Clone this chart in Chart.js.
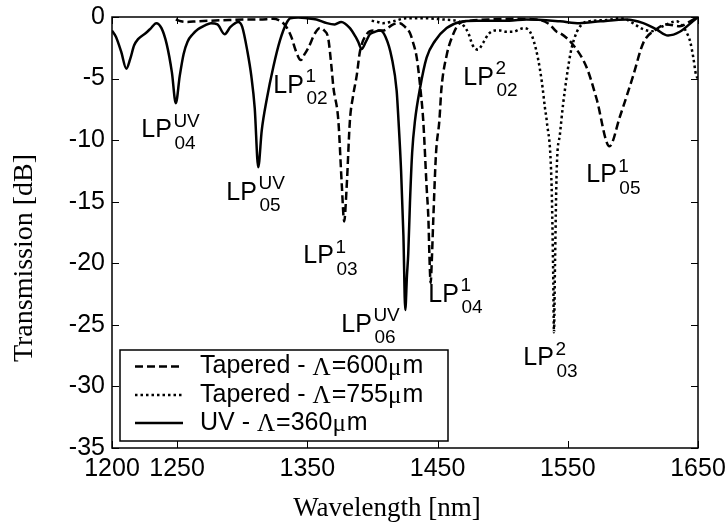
<!DOCTYPE html>
<html><head><meta charset="utf-8">
<script src="https://cdn.jsdelivr.net/npm/chart.js@4.4.1/dist/chart.umd.min.js"></script>
<style>html,body{margin:0;padding:0;background:#fff;}#wrap{width:728px;height:524px;}</style>
</head><body><div id="wrap"><canvas id="c" width="728" height="524"></canvas></div>
<script>
// ---- data ----
const xTickValues = [1200, 1250, 1350, 1450, 1550, 1650];
const yTickValues = [0, -5, -10, -15, -20, -25, -30, -35];

const tap600Wl = [1249,1253,1258,1265,1275,1290,1305,1313.6,1323.7,1328,1331.5,1335,1338,1341,1345,1348,1350.8,1356,1359.7,1363,1366,1368.5,1370,1373.8,1376.4,1378.3,1380.2,1382.7,1385,1388,1390.4,1395.6,1400.7,1408,1416,1421,1425,1428.8,1431,1434,1437,1439,1441.6,1443,1443.7,1444.7,1445.5,1446.7,1448.8,1451.4,1453,1457,1462,1467,1475,1490,1510,1526,1536,1541.5,1544,1554,1564.5,1572,1582,1590,1600,1608,1618,1626,1636,1644,1650];
const tap600T  = [-0.2,-0.35,-0.4,-0.35,-0.3,-0.25,-0.2,-0.2,-0.15,-0.25,-0.5,-1.0,-1.7,-2.7,-3.5,-3.0,-2.5,-1.3,-0.9,-1.1,-1.7,-4.0,-5.7,-8.4,-13.5,-16.6,-13.8,-8.4,-6.5,-4.7,-2.8,-1.4,-1.1,-1.1,-0.6,-0.5,-0.8,-1.3,-2.0,-3.3,-6.0,-8.4,-13.8,-16.5,-19.2,-21.6,-20.0,-16.5,-11.1,-8.4,-5.8,-3.1,-1.4,-0.5,-0.3,-0.2,-0.15,-0.2,-0.6,-1.2,-1.3,-2.25,-4.1,-6.6,-10.5,-8.1,-4.85,-2.1,-1.0,-0.6,-0.75,-0.35,0];

const tap755Wl = [1399.4,1404,1408,1416,1426,1440,1454,1467,1470,1473.6,1477,1481,1485,1489,1494,1498,1503,1508,1513,1516,1521,1524,1527,1530,1532.5,1533.8,1537.6,1538.8,1539.4,1540.2,1541.5,1544,1546.5,1549,1551,1553,1557,1562,1570,1580,1590,1596,1600,1608,1614.5,1623,1633.6,1637,1641,1644,1646.4,1648.5,1650];
const tap755T  = [-0.3,-0.4,-0.5,-0.35,-0.1,-0.1,-0.2,-0.4,-0.7,-1.3,-2.3,-2.65,-2.1,-1.4,-1.1,-1.1,-1.2,-1.2,-1.0,-0.9,-1.2,-2.0,-3.3,-5.2,-7.4,-8.4,-13.8,-20.8,-25.6,-20,-12.4,-9.5,-7.0,-5.0,-3.6,-2.5,-1.2,-0.5,-0.3,-0.25,-0.1,-0.25,-0.5,-1.0,-1.15,-0.75,-0.35,-0.6,-1.2,-2.0,-3.3,-4.7,-5.0];

const uvWl = [1200,1203,1207,1211,1214,1217,1220,1226,1230,1234,1238,1242,1246,1249,1252,1255,1258,1262,1266,1271,1276,1281,1286.5,1291,1297,1300,1304,1307,1309.6,1312.3,1315,1318.8,1324,1329,1334,1337,1343,1349.5,1357,1365,1371,1376,1382.7,1387,1389,1391.7,1395,1398,1402,1405.8,1410,1414.8,1418.6,1420,1422,1423.8,1425.2,1426.5,1427.5,1428.8,1430.5,1432.7,1436.5,1441.6,1448,1457,1467,1480,1505,1518,1544,1559,1575,1595,1608,1618,1627,1636,1646,1650];
const uvT  = [-1.1,-1.6,-2.8,-4.2,-3.4,-2.3,-1.8,-1.3,-0.9,-0.5,-0.9,-2.2,-4.5,-7.0,-4.8,-3.0,-2.0,-1.4,-1.0,-0.7,-0.5,-0.6,-1.4,-0.8,-0.4,-0.8,-2.8,-4.8,-7.4,-12.2,-9.2,-6.7,-4.0,-1.9,-0.5,-0.1,-0.05,-0.1,-0.2,-0.5,-0.6,-0.4,-0.9,-1.6,-2.0,-2.6,-2.0,-1.4,-1.2,-1.1,-1.6,-3.3,-6.0,-8.4,-12.5,-17.8,-23.8,-21,-19.2,-15.1,-11,-8.4,-5.8,-3.3,-1.95,-0.9,-0.4,-0.3,-0.3,-0.2,-0.35,-0.5,-0.35,-0.2,-0.5,-1.0,-1.5,-1.2,-0.35,0];

const seriesNames = ['Tapered - \u039B=600\u03BCm', 'Tapered - \u039B=755\u03BCm', 'UV - \u039B=360\u03BCm'];

// mode annotations: [main, superscript, subscript, wavelength, dB]
const modeLabels = [
  ['LP','UV','04',1222.5,-9.75],
  ['LP','UV','05',1287.8,-14.86],
  ['LP','1','02',1323.9,-6.17],
  ['LP','1','03',1346.9,-19.98],
  ['LP','UV','06',1376.1,-25.58],
  ['LP','1','04',1442.9,-23.14],
  ['LP','2','03',1515.9,-28.26],
  ['LP','2','02',1469.8,-5.52],
  ['LP','1','05',1564.2,-13.40]
];

const toXY = (xs, ys) => xs.slice(0, Math.min(xs.length, ys.length)).map((x, i) => ({x: x, y: ys[i]}));

const SANS = '"Liberation Sans", Arial, sans-serif';
const SERIF = '"Liberation Serif", "Times New Roman", serif';

const decor = {
  id: 'decor',
  afterDatasetsDraw(chart) {
    const {ctx, chartArea: a, scales: {x, y}} = chart;
    ctx.save();
    ctx.strokeStyle = '#000';
    ctx.lineWidth = 1.5;
    ctx.strokeRect(a.left, a.top, a.right - a.left, a.bottom - a.top);
    const tl = 7;
    ctx.beginPath();
    xTickValues.forEach(v => {
      const px = Math.round(x.getPixelForValue(v)) + 0.5;
      ctx.moveTo(px, a.bottom); ctx.lineTo(px, a.bottom - tl);
      ctx.moveTo(px, a.top); ctx.lineTo(px, a.top + tl);
    });
    yTickValues.forEach(v => {
      const py = Math.round(y.getPixelForValue(v)) + 0.5;
      ctx.moveTo(a.left, py); ctx.lineTo(a.left + tl, py);
      ctx.moveTo(a.right, py); ctx.lineTo(a.right - tl, py);
    });
    ctx.lineWidth = 1;
    ctx.stroke();
    ctx.restore();
  },
  afterDraw(chart) {
    const {ctx, scales: {x, y}} = chart;
    ctx.save();
    ctx.fillStyle = '#000';
    ctx.textBaseline = 'alphabetic';
    ctx.textAlign = 'left';
    // mode labels
    modeLabels.forEach(([m, sp, sb, wl, db]) => {
      const px = x.getPixelForValue(wl), py = y.getPixelForValue(db);
      ctx.font = '25px ' + SANS;
      ctx.fillText(m, px, py);
      const w = ctx.measureText(m).width;
      ctx.font = '19px ' + SANS;
      ctx.fillText(sp, px + w + 1.5, py - 10.5);
      ctx.fillText(sb, px + w + 2.5, py + 11.5);
    });
    // legend
    const lx = 120, ly = 350, lw = 328, lh = 91;
    ctx.fillStyle = '#fff';
    ctx.fillRect(lx, ly, lw, lh);
    ctx.strokeStyle = '#000';
    ctx.lineWidth = 1.5;
    ctx.strokeRect(lx, ly, lw, lh);
    const rows = [366.5, 395, 423];
    chart.data.datasets.forEach((ds, i) => {
      const ry = rows[i];
      ctx.save();
      ctx.strokeStyle = '#000';
      ctx.lineWidth = ds.borderWidth;
      ctx.setLineDash(ds.borderDash || []);
      ctx.beginPath(); ctx.moveTo(135, ry); ctx.lineTo(183, ry); ctx.stroke();
      ctx.restore();
      let tx = 200;
      const parts = ds.label.split(/([\u039B\u03BC])/).filter(s => s.length);
      ctx.fillStyle = '#000';
      ctx.textBaseline = 'middle';
      parts.forEach(p => {
        const greek = /[\u039B\u03BC]/.test(p);
        ctx.font = '25px ' + (greek ? SERIF : SANS);
        ctx.fillText(p, tx, ry + (greek ? 1.5 : 0));
        tx += ctx.measureText(p).width + (greek ? 1 : 0);
      });
    });
    // axis titles
    ctx.textBaseline = 'alphabetic';
    ctx.textAlign = 'center';
    ctx.font = '27px ' + SERIF;
    ctx.fillText('Wavelength [nm]', 387, 516);
    ctx.save();
    ctx.translate(32, 258);
    ctx.rotate(-Math.PI / 2);
    ctx.font = '28px ' + SERIF;
    ctx.fillText('Transmission [dB]', 0, 0);
    ctx.restore();
    ctx.restore();
  }
};

const lineBase = {borderColor: '#000', borderWidth: 2.5, pointRadius: 0, fill: false, cubicInterpolationMode: 'monotone'};

new Chart(document.getElementById('c'), {
  type: 'line',
  data: {
    datasets: [
      Object.assign({label: seriesNames[0], data: toXY(tap600Wl, tap600T), borderDash: [8, 4]}, lineBase),
      Object.assign({label: seriesNames[1], data: toXY(tap755Wl, tap755T), borderDash: [2.5, 3]}, lineBase),
      Object.assign({label: seriesNames[2], data: toXY(uvWl, uvT)}, lineBase)
    ]
  },
  options: {
    responsive: false, animation: false, devicePixelRatio: 1,
    layout: {padding: {left: 0, top: 17, right: 30, bottom: 0}},
    plugins: {legend: {display: false}, tooltip: {enabled: false}},
    scales: {
      x: {
        type: 'linear', min: 1200, max: 1650,
        afterBuildTicks: s => { s.ticks = xTickValues.map(v => ({value: v})); },
        afterFit: s => { s.height = 76; s.paddingLeft = 0; s.paddingRight = 0; },
        grid: {display: false, drawTicks: false}, border: {display: false},
        ticks: {color: '#000', font: {family: SANS, size: 25}, padding: 6, maxRotation: 0, autoSkip: false,
                callback: v => String(v)}
      },
      y: {
        type: 'linear', min: -35, max: 0,
        afterBuildTicks: s => { s.ticks = yTickValues.map(v => ({value: v})); },
        afterFit: s => { s.width = 112; s.paddingTop = 0; s.paddingBottom = 0; },
        grid: {display: false, drawTicks: false}, border: {display: false},
        ticks: {color: '#000', font: {family: SANS, size: 25}, padding: 7, callback: v => String(v)}
      }
    }
  },
  plugins: [decor]
});
</script></body></html>
